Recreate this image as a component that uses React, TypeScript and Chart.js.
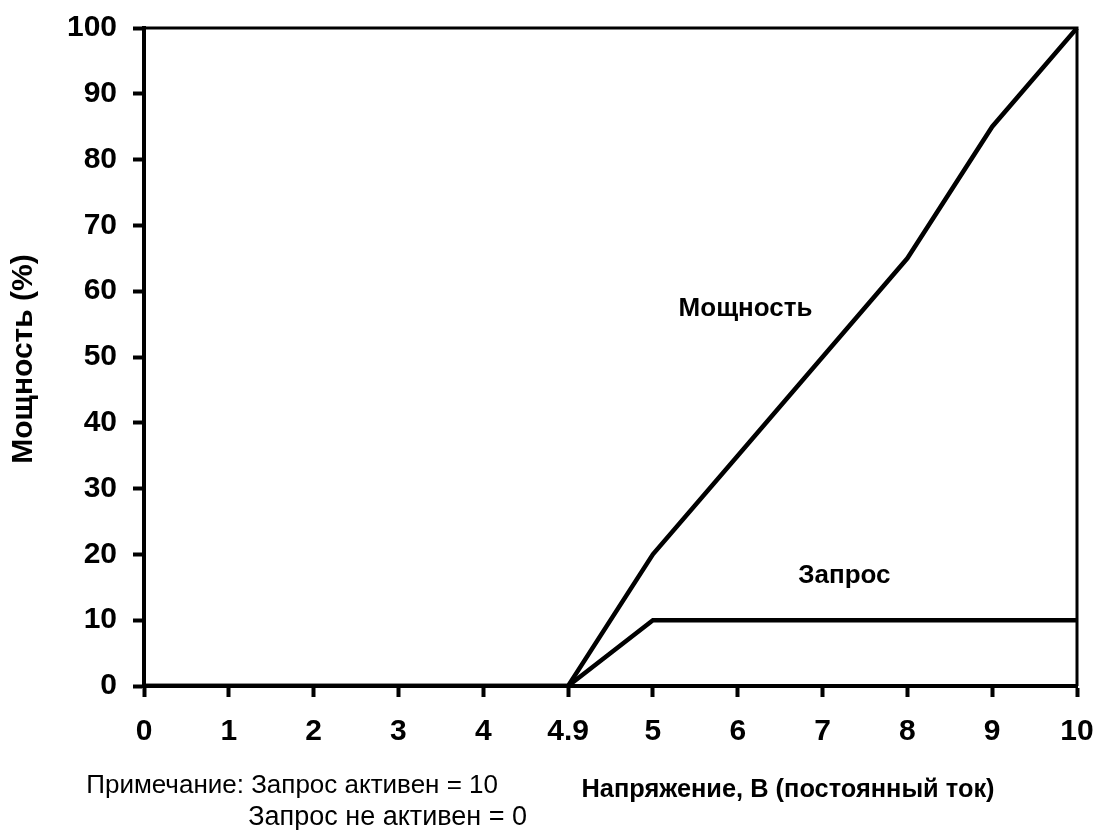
import React, { useEffect, useRef } from "react";
import { Chart, registerables } from "chart.js";

Chart.register(...registerables);

const categories = ["0", "1", "2", "3", "4", "4.9", "5", "6", "7", "8", "9", "10"];
const powerValues = [0, 0, 0, 0, 0, 0, 20, 35, 50, 65, 85, 100];
const requestValues = [0, 0, 0, 0, 0, 0, 10, 10, 10, 10, 10, 10];
const powerLabel = "Мощность";
const requestLabel = "Запрос";
const yTitle = "Мощность (%)";
const xTitle = "Напряжение, В (постоянный ток)";
const noteLine1 = "Примечание: Запрос активен = 10";
const noteLine2 = "Запрос не активен = 0";

const FONT = "'Liberation Sans', Arial, Helvetica, sans-serif";

const decorPlugin = {
  id: "decor",
  afterDraw(chart: any) {
    const { ctx, chartArea, scales } = chart;
    const x = scales.x;
    const y = scales.y;
    ctx.save();
    // thin frame top & right
    ctx.strokeStyle = "#000";
    ctx.lineWidth = 3;
    ctx.beginPath();
    ctx.moveTo(chartArea.left, chartArea.top);
    ctx.lineTo(chartArea.right, chartArea.top);
    ctx.lineTo(chartArea.right, chartArea.bottom);
    ctx.stroke();

    ctx.fillStyle = "#000";
    ctx.textBaseline = "alphabetic";
    ctx.font = `bold 26px ${FONT}`;
    ctx.textAlign = "center";
    ctx.fillText(powerLabel, x.getPixelForValue(8) - 77, y.getPixelForValue(56.2));
    ctx.fillText(requestLabel, x.getPixelForValue(9) - 63, y.getPixelForValue(15.7));

    // y title
    ctx.save();
    ctx.translate(32, (chartArea.top + chartArea.bottom) / 2 + 2);
    ctx.rotate(-Math.PI / 2);
    ctx.font = `bold 30px ${FONT}`;
    ctx.fillText(yTitle, 0, 0);
    ctx.restore();

    // x title
    ctx.font = `bold 25.4px ${FONT}`;
    ctx.fillText(xTitle, 788, 797);

    // notes
    ctx.textAlign = "right";
    ctx.font = `26px ${FONT}`;
    ctx.fillText(noteLine1, 498, 793);
    ctx.font = `27px ${FONT}`;
    ctx.fillText(noteLine2, 527, 825);
    ctx.restore();
  },
};

export default function App() {
  const ref = useRef<HTMLCanvasElement>(null);
  useEffect(() => {
    if (!ref.current) return;
    const chart = new Chart(ref.current, {
      type: "line",
      data: {
        labels: categories,
        datasets: [
          {
            label: powerLabel,
            data: powerValues,
            borderColor: "#000",
            borderWidth: 4.5,
            pointRadius: 0,
            tension: 0,
          },
          {
            label: requestLabel,
            data: requestValues,
            borderColor: "#000",
            borderWidth: 4.5,
            pointRadius: 0,
            tension: 0,
          },
        ],
      },
      options: {
        responsive: false,
        animation: false,
        layout: { padding: { top: 28, right: 21, bottom: 0, left: 0 } },
        plugins: {
          legend: { display: false },
          tooltip: { enabled: false },
        },
        scales: {
          x: {
            type: "category",
            offset: false,
            grid: {
              display: true,
              drawOnChartArea: false,
              drawTicks: true,
              tickLength: 11,
              tickWidth: 4,
              tickColor: "#000",
            },
            border: { display: true, color: "#000", width: 4 },
            ticks: {
              color: "#000",
              padding: 17,
              maxRotation: 0,
              autoSkip: false,
              font: { family: FONT, size: 30, weight: "bold" },
            },
            afterFit(scale: any) {
              scale.height = 144;
              scale.paddingLeft = 0;
              scale.paddingRight = 0;
            },
          },
          y: {
            min: 0,
            max: 100,
            grid: {
              display: true,
              drawOnChartArea: false,
              drawTicks: true,
              tickLength: 11,
              tickWidth: 4,
              tickColor: "#000",
            },
            border: { display: true, color: "#000", width: 4 },
            ticks: {
              stepSize: 10,
              color: "#000",
              padding: 16,
              font: { family: FONT, size: 30, weight: "bold" },
            },
            afterFit(scale: any) {
              scale.width = 144;
              scale.paddingTop = 0;
              scale.paddingBottom = 0;
            },
          },
        },
      },
      plugins: [decorPlugin],
    });
    return () => chart.destroy();
  }, []);
  return (
    <div style={{ position: "fixed", left: 0, top: 0, width: 1098, height: 830, background: "#fff" }}>
      <canvas ref={ref} width={1098} height={830} style={{ display: "block" }} />
    </div>
  );
}
